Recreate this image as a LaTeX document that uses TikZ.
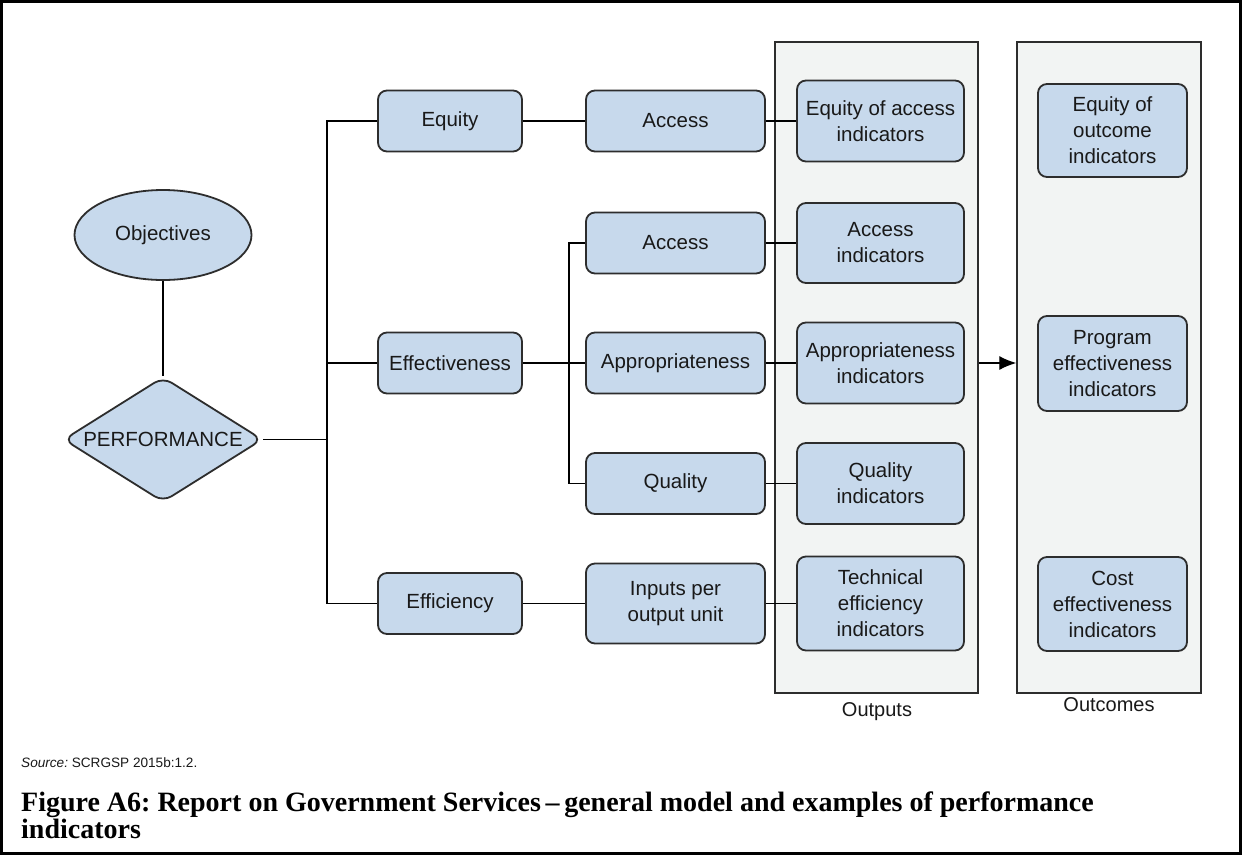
\documentclass[tikz,border=0pt]{standalone}
\usepackage{fontspec}
\setmainfont{Liberation Sans}
\newfontfamily\capfont[Ligatures=TeX]{Liberation Serif}
\usetikzlibrary{shapes.geometric,arrows.meta}
\definecolor{boxblue}{RGB}{199,217,236}
\definecolor{contgray}{RGB}{242,244,243}
\definecolor{edgec}{RGB}{45,45,45}
\definecolor{txt}{RGB}{25,25,25}
\frenchspacing
\begin{document}
\begin{tikzpicture}[x=1pt,y=-1pt,
  bx/.style={draw=edgec, line width=1.8pt, fill=boxblue, rounded corners=9pt, inner sep=0pt,
             align=center, text=txt, font=\fontsize{20.5}{26}\selectfont},
  cont/.style={draw=edgec, line width=1.4pt, fill=contgray, inner sep=0pt},
  conn/.style={draw=black, line width=1.3pt},
  lbl/.style={text=txt, font=\fontsize{20}{24}\selectfont, inner sep=0pt}
]
\useasboundingbox (0,0) rectangle (1242,855);
\fill[white] (0,0) rectangle (1242,855);
\draw[line width=3pt] (1.5,1.5) rectangle (1240.5,853.5);

% containers
\node[cont, minimum width=203pt, minimum height=651pt] (outbox) at (876.5,367.5) {};
\node[cont, minimum width=184pt, minimum height=651pt] (outcbox) at (1109,367.5) {};
\node[lbl, anchor=base] (outlbl) at (877,716) {Outputs};
\node[lbl, anchor=base] (outclbl) at (1109,711) {Outcomes};

% left part
\node[bx, ellipse, rounded corners=0pt, minimum width=177pt, minimum height=90pt] (obj) at (163,235) {Objectives};
\node[bx, diamond, rounded corners=10pt, minimum width=199pt, minimum height=125pt] (perf) at (163,439.5) {\makebox[0pt]{PERFORMANCE}};

% level 1
\node[bx, minimum width=144pt, minimum height=61pt] (equity) at (450,121) {Equity};
\node[bx, minimum width=144pt, minimum height=61pt] (effv) at (450,363) {Effectiveness};
\node[bx, minimum width=144pt, minimum height=61pt] (effc) at (450,603.5) {Efficiency};

% level 2
\node[bx, minimum width=179pt, minimum height=61pt] (acc1) at (675.5,121) {Access};
\node[bx, minimum width=179pt, minimum height=61pt] (acc2) at (675.5,243) {Access};
\node[bx, minimum width=179pt, minimum height=61pt] (appr) at (675.5,363) {Appropriateness};
\node[bx, minimum width=179pt, minimum height=61pt] (qual) at (675.5,483.5) {Quality};
\node[bx, minimum width=179pt, minimum height=80pt] (inp) at (675.5,603.5) {Inputs per\\output unit};

% outputs
\node[bx, minimum width=167pt, minimum height=81pt] (eoa) at (880.5,121) {Equity of access\\indicators};
\node[bx, minimum width=167pt, minimum height=80pt] (acci) at (880.5,243) {Access\\indicators};
\node[bx, minimum width=167pt, minimum height=81pt] (appri) at (880.5,363) {Appropriateness\\indicators};
\node[bx, minimum width=167pt, minimum height=81pt] (quali) at (880.5,483.5) {Quality\\indicators};
\node[bx, minimum width=167pt, minimum height=94pt] (tech) at (880.5,603.5) {Technical\\efficiency\\indicators};

% outcomes
\node[bx, minimum width=149pt, minimum height=93pt] (eoo) at (1112.5,130.5) {Equity of\\outcome\\indicators};
\node[bx, minimum width=149pt, minimum height=95pt] (prog) at (1112.5,363.5) {Program\\effectiveness\\indicators};
\node[bx, minimum width=149pt, minimum height=94pt] (cost) at (1112.5,604) {Cost\\effectiveness\\indicators};

% connectors
\coordinate (bus) at (327,439.5);
\coordinate (bus2) at (569,363);
\draw[conn] (obj.south) -- (perf.north);
\draw[conn] (perf.east) -- (bus);
\draw[conn] (equity.west) -- (equity.west -| bus) -- (effc.west -| bus) -- (effc.west);
\draw[conn] (effv.west) -- (effv.west -| bus);
\draw[conn] (equity.east) -- (acc1.west);
\draw[conn] (effv.east) -- (appr.west);
\draw[conn] (effc.east) -- (inp.west);
\draw[conn] (acc2.west) -- (acc2.west -| bus2) -- (qual.west -| bus2) -- (qual.west);
\draw[conn] (acc1.east) -- (eoa.west);
\draw[conn] (acc2.east) -- (acci.west);
\draw[conn] (appr.east) -- (appri.west);
\draw[conn] (qual.east) -- (quali.west);
\draw[conn] (inp.east) -- (tech.west);
\draw[conn, -{Latex[length=17pt,width=14pt]}] (outbox.east |- appri.east) -- (outcbox.west |- appri.east);

% source and caption
\node[anchor=base west, inner sep=0pt, text=txt, font=\fontsize{13.6}{16}\selectfont] (src) at (21,767) {\textit{Source:} SCRGSP 2015b:1.2.};
\node[anchor=base west, inner sep=0pt, font=\capfont\bfseries\fontsize{28}{32}\selectfont] (cap1) at (21,811) {Figure A6: Report on Government Services\,–\,general model and examples of performance};
\node[anchor=base west, inner sep=0pt, font=\capfont\bfseries\fontsize{28}{32}\selectfont] (cap2) at (21,838) {indicators};
\end{tikzpicture}
\end{document}
